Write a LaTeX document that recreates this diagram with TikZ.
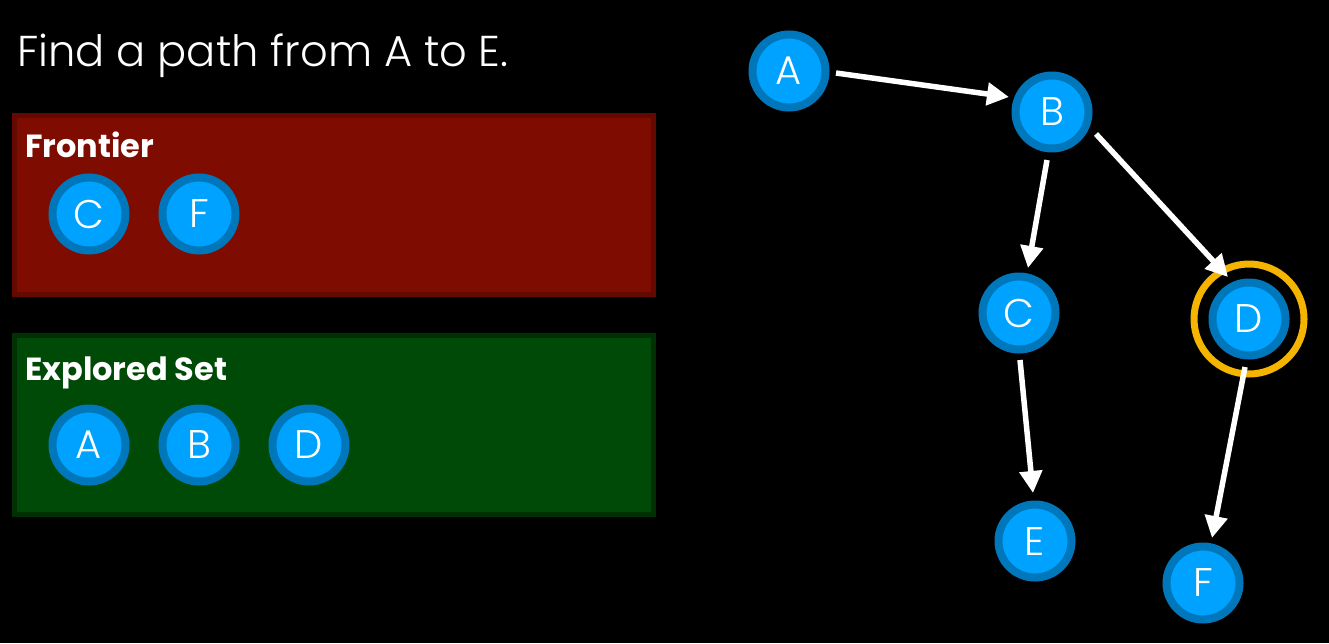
\documentclass[tikz,border=0pt]{standalone}
\usepackage{fontspec}
\setmainfont{Poppins Light}
\newfontfamily\boldf{Poppins Bold}
\usetikzlibrary{arrows.meta}
\definecolor{ringblue}{HTML}{0077BB}
\definecolor{innerblue}{HTML}{00A2FF}
\definecolor{gold}{HTML}{F5B400}
\definecolor{redfill}{HTML}{7F0C00}
\definecolor{rededge}{HTML}{630900}
\definecolor{greenfill}{HTML}{004A07}
\definecolor{greenedge}{HTML}{003004}
\tikzset{
  gnode/.style={circle, minimum size=73pt, inner sep=0pt, fill=innerblue, draw=ringblue, line width=8pt, text=white, font=\fontsize{40}{40}\selectfont},
  conn/.style={draw=white, line width=5.5pt, -{Triangle[length=22pt,width=22pt]}},
  setbox/.style={line width=5pt},
  boxlabel/.style={anchor=base west, text=white, font=\boldf\fontsize{32}{32}\selectfont, inner sep=0pt}
}
\begin{document}
\begin{tikzpicture}[x=1pt,y=-1pt]
\fill[black] (0,0) rectangle (1329,643);
\useasboundingbox (0,0) rectangle (1329,643);
\node[anchor=base west, text=white, inner sep=0pt, font=\fontsize{43.2}{43.2}\selectfont] (title) at (17,66) {Find a path from A to E.};
% frontier box
\draw[setbox, fill=redfill, draw=rededge] (14.5,115.5) rectangle (653.5,294.5);
\node[boxlabel] (flab) at (25,157) {Frontier};
\node[gnode] (fC) at (89,214) {C};
\node[gnode] (fF) at (199,214) {F};
% explored box
\draw[setbox, fill=greenfill, draw=greenedge] (14.5,335.5) rectangle (653.5,514.5);
\node[boxlabel] (elab) at (25,380) {Explored Set};
\node[gnode] (eA) at (89,445) {A};
\node[gnode] (eB) at (199,445) {B};
\node[gnode] (eD) at (309,445) {D};
% graph
\node[gnode] (A) at (789,71) {A};
\node[gnode] (B) at (1052,112) {B};
\node[gnode] (C) at (1019,313) {C};
\node[gnode] (D) at (1249,319) {D};
\node[gnode] (E) at (1035,541) {E};
\node[gnode] (F) at (1203,583) {F};
\node[circle, draw=gold, line width=7pt, minimum size=110pt, inner sep=0pt] (ring) at (D) {};
\draw[conn] ([shift={(47,2)}]A.center) -- ([shift={(-43,-15)}]B.center);
\draw[conn] ([shift={(-5,48)}]B.center) -- ([shift={(9,-45)}]C.center);
\draw[conn] ([shift={(44,22)}]B.center) -- ([shift={(-21,-42)}]D.center);
\draw[conn] ([shift={(1,47)}]C.center) -- ([shift={(-2,-48)}]E.center);
\draw[conn] ([shift={(-4,48)}]D.center) -- ([shift={(9,-45)}]F.center);
\end{tikzpicture}
\end{document}
